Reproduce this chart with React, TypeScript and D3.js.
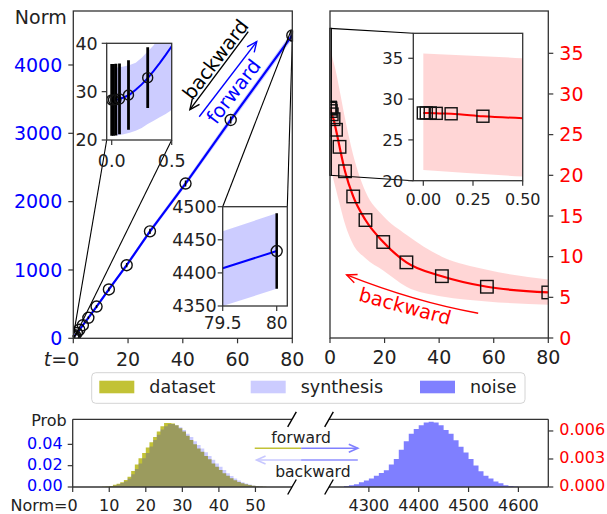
import React from "react";
import * as d3 from "d3";

// ---------------- data ----------------
const stepT = [0, 0.015, 0.035, 0.065, 0.14, 0.3, 0.65, 1.3, 2.2, 3.5, 5.5, 8.5, 13, 19.5, 28, 41, 57.5, 80];
const noiseNorm = [28.3, 28.3, 28.35, 28.5, 29.3, 32.9, 44, 78, 125, 192, 300, 465, 715, 1070, 1565, 2265, 3195, 4433];
const noiseNormErr = [7.4, 7.4, 7.4, 7.3, 7.2, 6.3, 8, 10, 12, 15, 18, 22, 27, 32, 37, 43, 50, 57];
const synthNorm = [28.3, 28.3, 28.3, 28.25, 28.2, 27.9, 27.5, 26.9, 25.6, 23.5, 20.5, 17.4, 14.5, 11.8, 9.3, 7.6, 6.3, 5.6];

const normCurveT = [0, 0.05, 0.1, 0.15, 0.2, 0.25, 0.3, 0.35, 0.4, 0.45, 0.5, 0.6, 0.8, 1, 1.3, 2.2, 3.5, 5.5, 8.5, 13, 19.5, 28, 41, 57.5, 79.5, 80];
const normCurve = [28.3, 28.4, 28.8, 29.4, 30.4, 31.5, 32.8, 34.3, 35.9, 37.6, 39.4, 43, 51, 60, 78, 125, 192, 300, 465, 715, 1070, 1565, 2265, 3195, 4407, 4433];
const normBandLo = [21, 21, 21.2, 21.5, 21.9, 22.5, 23.3, 24, 24.7, 25.4, 26.2, 28, 33, 40, 58, 105, 170, 276, 440, 688, 1040, 1530, 2225, 3145, 4350, 4376];
const normBandHi = [35, 35, 35.2, 35.5, 36, 37, 38.3, 39.6, 41.5, 43.5, 46, 50, 58, 70, 96, 145, 214, 324, 490, 742, 1100, 1600, 2305, 3245, 4463, 4490];

const synthBandT = [0, 0.5, 1, 2, 3.5, 5.5, 8.5, 13, 19.5, 28, 41, 57.5, 80];
const synthBandLo = [21.3, 20.5, 19.8, 18.5, 16.5, 14, 11.5, 9.8, 8.3, 6.3, 5.1, 4.5, 4.1];
const synthBandHi = [35.6, 35.0, 34.3, 33, 30.5, 27, 22.5, 18, 15, 12.7, 10, 8.4, 7.2];

const normBinEdges = [8, 9, 10, 11, 12, 13, 14, 15, 16, 17, 18, 19, 20, 21, 22, 23, 24, 25, 26, 27, 28, 29, 30, 31, 32, 33, 34, 35, 36, 37, 38, 39, 40, 41, 42, 43, 44, 45, 46, 47, 48, 49, 50, 51, 52, 53];
const datasetDensity = [0.0002, 0.0005, 0.001, 0.002, 0.003, 0.0045, 0.0065, 0.0095, 0.015, 0.021, 0.027, 0.032, 0.037, 0.042, 0.047, 0.052, 0.057, 0.06, 0.06, 0.0595, 0.058, 0.055, 0.052, 0.048, 0.044, 0.04, 0.036, 0.033, 0.029, 0.026, 0.022, 0.019, 0.016, 0.013, 0.0105, 0.0083, 0.0064, 0.0048, 0.0036, 0.0026, 0.0018, 0.0012, 0.0008, 0.0005, 0.0002];
const synthesisDensity = [0.0001, 0.0003, 0.0007, 0.0014, 0.0024, 0.0037, 0.0055, 0.008, 0.012, 0.017, 0.022, 0.027, 0.032, 0.038, 0.044, 0.049, 0.054, 0.057, 0.059, 0.059, 0.058, 0.056, 0.0535, 0.05, 0.047, 0.043, 0.0395, 0.036, 0.0325, 0.029, 0.0255, 0.022, 0.019, 0.016, 0.013, 0.0103, 0.008, 0.006, 0.0045, 0.0033, 0.0023, 0.0015, 0.001, 0.0006, 0.0003];

const noiseBinEdges = [4250, 4260, 4270, 4280, 4290, 4300, 4310, 4320, 4330, 4340, 4350, 4360, 4370, 4380, 4390, 4400, 4410, 4420, 4430, 4440, 4450, 4460, 4470, 4480, 4490, 4500, 4510, 4520, 4530, 4540, 4550, 4560, 4570, 4580, 4590, 4600];
const noiseDensity = [0.0001, 0.0002, 0.0003, 0.0005, 0.0007, 0.0009, 0.0012, 0.0015, 0.0018, 0.0024, 0.003, 0.004, 0.0049, 0.0057, 0.0062, 0.0066, 0.0069, 0.007, 0.0069, 0.0066, 0.0061, 0.0057, 0.005, 0.0043, 0.0037, 0.003, 0.0023, 0.0017, 0.0012, 0.0009, 0.0006, 0.0004, 0.0002, 0.0001, 0.00005];

const mainXTicks = [0, 20, 40, 60, 80];
const leftYTicks = [0, 1000, 2000, 3000, 4000];
const rightYTicks = [0, 5, 10, 15, 20, 25, 30, 35];
const inset1XTicks = [0, 0.5];
const inset1YTicks = [20, 30, 40];
const inset2XTicks = [79.5, 80];
const inset2YTicks = [4350, 4400, 4450, 4500];
const insetRXTicks = [0, 0.25, 0.5];
const insetRYTicks = [20, 25, 30, 35];
const histLeftXTicks = [0, 10, 20, 30, 40, 50];
const histRightXTicks = [4300, 4400, 4500, 4600];
const histLeftYTicks = [0, 0.02, 0.04];
const histRightYTicks = [0, 0.003, 0.006];
const legendLabels = ["dataset", "synthesis", "noise"];

// ---------------- styles ----------------
const FONT = "DejaVu Sans, Verdana, sans-serif";
const SPINE = "#333";
const TXT = "#222";
const BLUE = "#0000ff";
const RED = "#ff0000";
const OLIVE = "#c2c236";

function head(tip: number[], from: number[], len = 10, half = 4.5) {
  const dx = tip[0] - from[0], dy = tip[1] - from[1];
  const L = Math.hypot(dx, dy);
  const ux = dx / L, uy = dy / L;
  const bx = tip[0] - ux * len, by = tip[1] - uy * len;
  const px = -uy, py = ux;
  return `M${bx + px * half},${by + py * half}L${tip[0]},${tip[1]}L${bx - px * half},${by - py * half}`;
}

function XTicks({ scale, y, ticks, fmt, fs, base, color = TXT, len = 5 }: any) {
  return (
    <g>
      {ticks.map((t: number, i: number) => (
        <g key={i}>
          <line x1={scale(t)} x2={scale(t)} y1={y} y2={y + len} stroke={SPINE} strokeWidth={1.2} />
          <text x={scale(t)} y={base} textAnchor="middle" fontSize={fs} fill={color} fontFamily={FONT}>{fmt(t, i)}</text>
        </g>
      ))}
    </g>
  );
}

function YTicks({ scale, x, ticks, fmt, fs, side = "left", color = TXT, len = 5, gap = 11, off = 0.36 }: any) {
  const s = side === "left" ? -1 : 1;
  return (
    <g>
      {ticks.map((t: number, i: number) => (
        <g key={i}>
          <line x1={x} x2={x + s * len} y1={scale(t)} y2={scale(t)} stroke={SPINE} strokeWidth={1.2} />
          <text x={x + s * gap} y={scale(t) + fs * off} textAnchor={side === "left" ? "end" : "start"} fontSize={fs} fill={color} fontFamily={FONT}>{fmt(t)}</text>
        </g>
      ))}
    </g>
  );
}

export default function App() {
  // scales
  const xL = d3.scaleLinear().domain([0, 80]).range([73.3, 292.3]);
  const yL = d3.scaleLinear().domain([0, 4790]).range([338.3, 11]);
  const xR = d3.scaleLinear().domain([0, 80]).range([330, 548.3]);
  const yR = d3.scaleLinear().domain([0, 40.2]).range([338, 11]);
  const xI1 = d3.scaleLinear().domain([-0.0417, 0.5]).range([106.7, 171.7]);
  const yI1 = d3.scaleLinear().domain([20, 40]).range([140, 43.3]);
  const xI2 = d3.scaleLinear().domain([79.5, 80.098]).range([222.7, 287.3]);
  const yI2 = d3.scaleLinear().domain([4350, 4500]).range([306, 206.7]);
  const xIR = d3.scaleLinear().domain([-0.0503, 0.5]).range([413.3, 522.7]);
  const yIR = d3.scaleLinear().domain([20, 38.06]).range([180.7, 33.3]);
  const xB1 = d3.scaleLinear().domain([0, 60]).range([72.7, 292]);
  const yB1 = d3.scaleLinear().domain([0, 0.0635]).range([487, 419.3]);
  const xB2 = d3.scaleLinear().domain([4220, 4660]).range([329, 548.3]);
  const yB2 = d3.scaleLinear().domain([0, 0.00725]).range([487, 419.3]);

  const normIdx = normCurveT.map((_, i) => i);
  const mkNorm = (xs: any, ys: any) => ({
    line: d3.line<number>().x(i => xs(normCurveT[i])).y(i => ys(normCurve[i]))(normIdx) as string,
    band: d3.area<number>().x(i => xs(normCurveT[i])).y0(i => ys(normBandLo[i])).y1(i => ys(normBandHi[i]))(normIdx) as string,
  });
  const stepIdx = stepT.map((_, i) => i);
  const sbIdx = synthBandT.map((_, i) => i);
  const mkSynth = (xs: any, ys: any) => ({
    line: d3.line<number>().curve(d3.curveMonotoneX).x(i => xs(stepT[i])).y(i => ys(synthNorm[i]))(stepIdx) as string,
    band: d3.area<number>().curve(d3.curveMonotoneX).x(i => xs(synthBandT[i])).y0(i => ys(synthBandLo[i])).y1(i => ys(synthBandHi[i]))(sbIdx) as string,
  });
  const nMain = mkNorm(xL, yL), nI1 = mkNorm(xI1, yI1), nI2 = mkNorm(xI2, yI2);
  const sMain = mkSynth(xR, yR), sIR = mkSynth(xIR, yIR);

  const hist = (edges: number[], vals: number[], xs: any, ys: any) => {
    const pts: [number, number][] = vals.map((v, i) => [edges[i], v]);
    pts.push([edges[edges.length - 1], 0]);
    return d3.area<[number, number]>().curve(d3.curveStepAfter).x(d => xs(d[0])).y0(ys(0)).y1(d => ys(d[1]))(pts) as string;
  };

  const circles = (xs: any, ys: any, r: number, bw: number) =>
    stepT.map((t, i) => (
      <g key={i}>
        <line x1={xs(t)} x2={xs(t)} y1={ys(noiseNorm[i] - noiseNormErr[i])} y2={ys(noiseNorm[i] + noiseNormErr[i])} stroke="#000" strokeWidth={bw} />
        <circle cx={xs(t)} cy={ys(noiseNorm[i])} r={r} fill="none" stroke="#111" strokeWidth={1.4} />
      </g>
    ));
  const squares = (xs: any, ys: any, s: number) =>
    stepT.map((t, i) => (
      <rect key={i} x={xs(t) - s / 2} y={ys(synthNorm[i]) - s / 2} width={s} height={s} fill="none" stroke="#111" strokeWidth={1.4} />
    ));

  // inset boxes from scales
  const box = (xs: any, ys: any) => ({ x: xs.range()[0], y: ys.range()[1], w: xs.range()[1] - xs.range()[0], h: ys.range()[0] - ys.range()[1] });
  const bI1 = box(xI1, yI1), bI2 = box(xI2, yI2), bIR = box(xIR, yIR), bL = box(xL, yL), bR = box(xR, yR);

  // annotation positions in data coordinates
  const blkA = [xL(63.9), yL(4487)], blkB = [xL(42.6), yL(3346)];
  const bluA = [xL(46.0), yL(3243)], bluB = [xL(67.0), yL(4341)];
  const ang = (Math.atan2(bluB[1] - bluA[1], bluB[0] - bluA[0]) * 180) / Math.PI;
  const bwTxt = [xL(53.9), yL(4020)], fwTxt = [xL(60.5), yL(3552)];
  const redA = [xR(54.3), yR(3.04)], redC = [xR(31.1), yR(4.43)], redB = [xR(6.1), yR(7.75)];
  const redTxt = [xR(26.9), yR(3.1)];

  const f0 = (t: number) => `${t}`;
  const spineW = 1.3;

  return (
    <svg width={607} height={514} style={{ position: "absolute", left: 0, top: 0, background: "#fff" }} fontFamily={FONT}>
      <defs>
        <clipPath id="cL"><rect x={bL.x} y={bL.y} width={bL.w} height={bL.h} /></clipPath>
        <clipPath id="cR"><rect x={bR.x} y={bR.y} width={bR.w} height={bR.h} /></clipPath>
        <clipPath id="cI1"><rect x={bI1.x} y={bI1.y} width={bI1.w} height={bI1.h} /></clipPath>
        <clipPath id="cI2"><rect x={bI2.x} y={bI2.y} width={bI2.w} height={bI2.h} /></clipPath>
        <clipPath id="cIR"><rect x={bIR.x} y={bIR.y} width={bIR.w} height={bIR.h} /></clipPath>
      </defs>
      <rect x={0} y={0} width={607} height={514} fill="#fff" />

      {/* ===== left main ===== */}
      <g clipPath="url(#cL)">
        <path d={nMain.band} fill={BLUE} fillOpacity={0.2} />
        <path d={nMain.line} fill="none" stroke={BLUE} strokeWidth={2.2} />
        {circles(xL, yL, 5.5, 1.5)}
      </g>
      {/* inset marks */}
      <g stroke="#000" strokeWidth={1.1} fill="none">
        <rect x={xL(xI1.domain()[0])} y={yL(40)} width={xL(0.5) - xL(xI1.domain()[0])} height={yL(20) - yL(40)} />
        <line x1={xL(xI1.domain()[0])} y1={yL(20)} x2={bI1.x} y2={bI1.y + bI1.h} />
        <line x1={xL(0.5)} y1={yL(20)} x2={bI1.x + bI1.w} y2={bI1.y + bI1.h} />
        <rect x={xL(79.5)} y={yL(4500)} width={xL(80.098) - xL(79.5)} height={yL(4350) - yL(4500)} />
        <line x1={xL(79.5)} y1={yL(4500)} x2={bI2.x} y2={bI2.y} />
        <line x1={xL(80.098)} y1={yL(4500)} x2={bI2.x + bI2.w} y2={bI2.y} />
      </g>
      {/* inset 1 */}
      <rect x={bI1.x} y={bI1.y} width={bI1.w} height={bI1.h} fill="#fff" />
      <g clipPath="url(#cI1)">
        <path d={nI1.band} fill={BLUE} fillOpacity={0.2} />
        <path d={nI1.line} fill="none" stroke={BLUE} strokeWidth={2} />
        {circles(xI1, yI1, 5, 2.8)}
      </g>
      <rect x={bI1.x} y={bI1.y} width={bI1.w} height={bI1.h} fill="none" stroke={SPINE} strokeWidth={spineW} />
      <XTicks scale={xI1} y={bI1.y + bI1.h} ticks={inset1XTicks} fmt={(t: number) => d3.format(".1f")(t)} fs={17.5} base={166.5} />
      <YTicks scale={yI1} x={bI1.x} ticks={inset1YTicks} fmt={f0} fs={17.5} gap={9} />
      {/* inset 2 */}
      <rect x={bI2.x} y={bI2.y} width={bI2.w} height={bI2.h} fill="#fff" />
      <g clipPath="url(#cI2)">
        <path d={nI2.band} fill={BLUE} fillOpacity={0.2} />
        <path d={nI2.line} fill="none" stroke={BLUE} strokeWidth={2} />
        {circles(xI2, yI2, 5.5, 2.5)}
      </g>
      <rect x={bI2.x} y={bI2.y} width={bI2.w} height={bI2.h} fill="none" stroke={SPINE} strokeWidth={spineW} />
      <XTicks scale={xI2} y={bI2.y + bI2.h} ticks={inset2XTicks} fmt={f0} fs={17} base={328.5} />
      <YTicks scale={yI2} x={bI2.x} ticks={inset2YTicks} fmt={f0} fs={17.5} gap={6} />

      <rect x={bL.x} y={bL.y} width={bL.w} height={bL.h} fill="none" stroke={SPINE} strokeWidth={spineW} />
      <XTicks scale={xL} y={bL.y + bL.h} ticks={mainXTicks} fmt={(t: number) => (t === 0 ? "" : `${t}`)} fs={19} base={365.5} />
      <text x={xL(0) + 6} y={365.5} textAnchor="end" fontSize={19} fill={TXT}><tspan fontStyle="italic">t</tspan>=0</text>
      <YTicks scale={yL} x={bL.x} ticks={leftYTicks} fmt={f0} fs={19} color={BLUE} gap={11} />
      <text x={66.7} y={23.5} textAnchor="end" fontSize={19} fill={TXT}>Norm</text>

      {/* arrows left */}
      <g fill="none" strokeWidth={1.4}>
        <line x1={blkA[0]} y1={blkA[1]} x2={blkB[0]} y2={blkB[1]} stroke="#000" />
        <path d={head(blkB, blkA)} stroke="#000" />
        <line x1={bluA[0]} y1={bluA[1]} x2={bluB[0]} y2={bluB[1]} stroke={BLUE} />
        <path d={head(bluB, bluA)} stroke={BLUE} />
      </g>
      <text transform={`translate(${bwTxt[0]},${bwTxt[1]}) rotate(${ang})`} textAnchor="middle" fontSize={19.5} fill="#000">backward</text>
      <text transform={`translate(${fwTxt[0]},${fwTxt[1]}) rotate(${ang})`} textAnchor="middle" fontSize={19.5} fill={BLUE}>forward</text>

      {/* ===== right main ===== */}
      <g clipPath="url(#cR)">
        <path d={sMain.band} fill={RED} fillOpacity={0.16} />
        <path d={sMain.line} fill="none" stroke={RED} strokeWidth={2.2} />
        {squares(xR, yR, 12.5)}
      </g>
      <g stroke="#000" strokeWidth={1.1} fill="none">
        <rect x={xR(xIR.domain()[0])} y={yR(yIR.domain()[1])} width={xR(0.5) - xR(xIR.domain()[0])} height={yR(20) - yR(yIR.domain()[1])} />
        <line x1={xR(xIR.domain()[0])} y1={yR(yIR.domain()[1])} x2={bIR.x} y2={bIR.y} />
        <line x1={xR(xIR.domain()[0])} y1={yR(20)} x2={bIR.x} y2={bIR.y + bIR.h} />
      </g>
      <rect x={bIR.x} y={bIR.y} width={bIR.w} height={bIR.h} fill="#fff" />
      <g clipPath="url(#cIR)">
        <path d={sIR.band} fill={RED} fillOpacity={0.16} />
        <path d={sIR.line} fill="none" stroke={RED} strokeWidth={2} />
        {squares(xIR, yIR, 12)}
      </g>
      <rect x={bIR.x} y={bIR.y} width={bIR.w} height={bIR.h} fill="none" stroke={SPINE} strokeWidth={spineW} />
      <XTicks scale={xIR} y={bIR.y + bIR.h} ticks={insetRXTicks} fmt={(t: number) => d3.format(".2f")(t)} fs={16} base={205} />
      <YTicks scale={yIR} x={bIR.x} ticks={insetRYTicks} fmt={f0} fs={16.5} gap={10} />

      <rect x={bR.x} y={bR.y} width={bR.w} height={bR.h} fill="none" stroke={SPINE} strokeWidth={spineW} />
      <XTicks scale={xR} y={bR.y + bR.h} ticks={mainXTicks} fmt={f0} fs={19} base={364} />
      <YTicks scale={yR} x={bR.x + bR.w} ticks={rightYTicks} fmt={f0} fs={19} side="right" color={RED} gap={11} />

      <path d={`M${redA[0]},${redA[1]}Q${redC[0]},${redC[1]} ${redB[0]},${redB[1]}`} fill="none" stroke={RED} strokeWidth={1.4} />
      <path d={head(redB, redC)} fill="none" stroke={RED} strokeWidth={1.4} />
      <text transform={`translate(${redTxt[0]},${redTxt[1]}) rotate(15)`} textAnchor="middle" fontSize={19.5} fill={RED}>backward</text>

      {/* ===== legend ===== */}
      <rect x={91.7} y={372.7} width={433.3} height={30.6} rx={4} fill="#fff" stroke="#d4d4d4" strokeWidth={1} />
      {legendLabels.map((lab, i) => {
        const px = [99.3, 250.7, 420][i];
        const fill = [OLIVE, "#ccccff", "#8080ff"][i];
        return (
          <g key={lab}>
            <rect x={px} y={380.7} width={35} height={12.6} fill={fill} />
            <text x={px + 50} y={393.4} fontSize={17.5} fill={TXT}>{lab}</text>
          </g>
        );
      })}

      {/* ===== bottom histograms ===== */}
      <path d={hist(normBinEdges, datasetDensity, xB1, yB1)} fill={OLIVE} />
      <path d={hist(normBinEdges, synthesisDensity, xB1, yB1)} fill={BLUE} fillOpacity={0.2} />
      <path d={hist(noiseBinEdges, noiseDensity, xB2, yB2)} fill={BLUE} fillOpacity={0.5} />
      <g stroke={SPINE} strokeWidth={spineW} fill="none">
        <line x1={xB1(0)} x2={xB1(60)} y1={yB1.range()[1]} y2={yB1.range()[1]} />
        <line x1={xB1(0)} x2={xB1(60)} y1={yB1(0)} y2={yB1(0)} />
        <line x1={xB1(0)} x2={xB1(0)} y1={yB1(0)} y2={yB1.range()[1]} />
        <line x1={xB2(4220)} x2={xB2(4660)} y1={yB2.range()[1]} y2={yB2.range()[1]} />
        <line x1={xB2(4220)} x2={xB2(4660)} y1={yB2(0)} y2={yB2(0)} />
        <line x1={xB2(4660)} x2={xB2(4660)} y1={yB2(0)} y2={yB2.range()[1]} />
        {[xB1(60), xB2(4220)].map((x, i) =>
          [yB1(0), yB1.range()[1]].map((y, j) => (
            <line key={`${i}${j}`} x1={x - 4.3} y1={y + 7.5} x2={x + 4.3} y2={y - 7.5} stroke="#000" strokeWidth={1.4} />
          ))
        )}
      </g>
      <XTicks scale={xB1} y={yB1(0)} ticks={histLeftXTicks} fmt={(t: number) => (t === 0 ? "" : `${t}`)} fs={16} base={510.5} />
      <text x={xB1(0) + 5} y={510.5} textAnchor="end" fontSize={16} fill={TXT}>Norm=0</text>
      <XTicks scale={xB2} y={yB2(0)} ticks={histRightXTicks} fmt={f0} fs={16} base={510.5} />
      <YTicks scale={yB1} x={xB1(0)} ticks={histLeftYTicks} fmt={(t: number) => d3.format(".2f")(t)} fs={16} color={BLUE} gap={10} off={0.28} />
      <YTicks scale={yB2} x={xB2(4660)} ticks={histRightYTicks} fmt={(t: number) => d3.format(".3f")(t)} fs={16} side="right" color={RED} gap={11} off={0.28} />
      <text x={66.7} y={425.5} textAnchor="end" fontSize={16} fill={TXT}>Prob</text>

      {/* forward / backward arrows between panels */}
      <g fill="none" strokeWidth={1.6}>
        <line x1={xB1(49.8)} x2={xB1(62.5)} y1={yB1(0.0363)} y2={yB1(0.0363)} stroke={OLIVE} />
        <line x1={xB1(62.5)} x2={xB1(78)} y1={yB1(0.0363)} y2={yB1(0.0363)} stroke="#8080ff" />
        <path d={head([xB1(78), yB1(0.0363)], [xB1(62.5), yB1(0.0363)], 9, 4)} stroke="#8080ff" />
        <line x1={xB1(50.3)} x2={xB1(62.5)} y1={yB1(0.0253)} y2={yB1(0.0253)} stroke="#c8c8ff" />
        <line x1={xB1(62.5)} x2={xB1(78)} y1={yB1(0.0253)} y2={yB1(0.0253)} stroke="#8f8fff" />
        <path d={head([xB1(50.3), yB1(0.0253)], [xB1(62.5), yB1(0.0253)], 9, 4)} stroke="#c8c8ff" />
      </g>
      <text x={xB1(62.5)} y={442.7} textAnchor="middle" fontSize={15.6} fill={TXT}>forward</text>
      <text x={xB1(65.7)} y={476.5} textAnchor="middle" fontSize={15.6} fill={TXT}>backward</text>
    </svg>
  );
}
